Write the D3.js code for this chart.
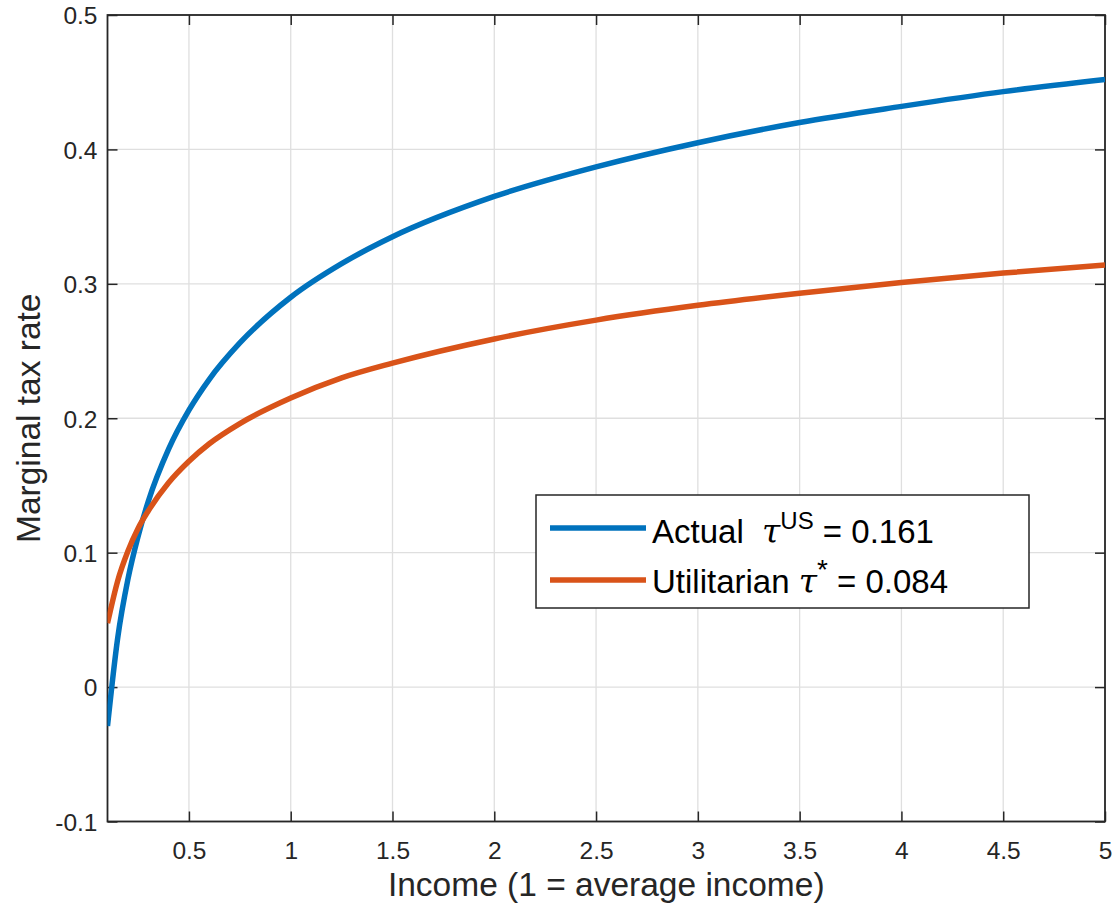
<!DOCTYPE html>
<html><head><meta charset="utf-8">
<script src="https://cdn.jsdelivr.net/npm/d3@7"></script>
<style>body{margin:0;background:#fff}</style>
</head><body>
<svg id="chart" width="1114" height="905"></svg>
<script>
const income = [0.1,0.15,0.2,0.25,0.3,0.4,0.5,0.6,0.75,1,1.25,1.5,2,2.5,3,3.5,4,4.5,5];
const actualRate = [-0.029,0.0365,0.080,0.112,0.138,0.177,0.206,0.229,0.256,0.290,0.315,0.335,0.365,0.387,0.405,0.420,0.432,0.443,0.452];
const utilRate = [0.0475,0.079,0.101,0.118,0.131,0.152,0.168,0.181,0.196,0.215,0.230,0.241,0.259,0.273,0.284,0.293,0.301,0.308,0.314];
const xTicks = [0.5,1,1.5,2,2.5,3,3.5,4,4.5,5];
const yTicks = [-0.1,0,0.1,0.2,0.3,0.4,0.5];
const yTickLabels = ["-0.1","0","0.1","0.2","0.3","0.4","0.5"];

const svg = d3.select("#chart");
const L=107.5, R=1105, T=15, B=821.5;
const x = d3.scaleLinear().domain([0.1,5]).range([L,R]);
const y = d3.scaleLinear().domain([-0.1,0.5]).range([B,T]);
const axisColor="#262626", gridColor="#dfdfdf";
const font="Liberation Sans, Arial, Helvetica, sans-serif";

// grid
svg.append("g").selectAll("line").data(xTicks).join("line")
  .attr("x1",d=>x(d)).attr("x2",d=>x(d)).attr("y1",T).attr("y2",B)
  .attr("stroke",gridColor).attr("stroke-width",1.3);
svg.append("g").selectAll("line").data(yTicks).join("line")
  .attr("y1",d=>y(d)).attr("y2",d=>y(d)).attr("x1",L).attr("x2",R)
  .attr("stroke",gridColor).attr("stroke-width",1.3);

// axes
const tickLen=10;
const xAxisB = d3.axisBottom(x).tickValues(xTicks).tickSizeInner(-tickLen).tickSizeOuter(0).tickPadding(20).tickFormat(d3.format("~g"));
const gx = svg.append("g").attr("transform",`translate(0,${B})`).call(xAxisB);
const xAxisT = d3.axisTop(x).tickValues(xTicks).tickSizeInner(-tickLen).tickSizeOuter(0).tickFormat("");
const gxt = svg.append("g").attr("transform",`translate(0,${T})`).call(xAxisT);
const yAxisL = d3.axisLeft(y).tickValues(yTicks).tickSizeInner(-tickLen).tickSizeOuter(0).tickPadding(20).tickFormat((d,i)=>yTickLabels[i]);
const gy = svg.append("g").attr("transform",`translate(${L},0)`).call(yAxisL);
const yAxisR = d3.axisRight(y).tickValues(yTicks).tickSizeInner(-tickLen).tickSizeOuter(0).tickFormat("");
const gyr = svg.append("g").attr("transform",`translate(${R},0)`).call(yAxisR);
[gx,gxt,gy,gyr].forEach(g=>{
  g.select(".domain").remove();
  g.selectAll(".tick line").attr("stroke",axisColor).attr("stroke-width",1.5);
  g.selectAll(".tick text").attr("fill",axisColor).style("font-family",font).style("font-size","24.5px");
});
gy.selectAll(".tick text").attr("dy","0.36em").attr("x",-10);
gx.selectAll(".tick text").attr("dy","0.72em").attr("y",20);
// box
svg.append("rect").attr("x",L).attr("y",T).attr("width",R-L).attr("height",B-T)
  .attr("fill","none").attr("stroke",axisColor).attr("stroke-width",1.8);

// lines
const line = d3.line().x(d=>x(d[0])).y(d=>y(d[1])).curve(d3.curveMonotoneX);
svg.append("clipPath").attr("id","clip").append("rect").attr("x",L).attr("y",T).attr("width",R-L).attr("height",B-T);
svg.append("path").datum(income.map((v,i)=>[v,actualRate[i]])).attr("d",line)
  .attr("fill","none").attr("stroke","#0072BD").attr("stroke-width",5.5).attr("clip-path","url(#clip)");
svg.append("path").datum(income.map((v,i)=>[v,utilRate[i]])).attr("d",line)
  .attr("fill","none").attr("stroke","#D95319").attr("stroke-width",5.5).attr("clip-path","url(#clip)");

// labels
svg.append("text").attr("x",(L+R)/2).attr("y",896).attr("text-anchor","middle")
  .style("font-family",font).style("font-size","33.5px").attr("fill",axisColor)
  .text("Income (1 = average income)");
svg.append("text").attr("transform",`translate(40,${(T+B)/2}) rotate(-90)`).attr("text-anchor","middle")
  .style("font-family",font).style("font-size","33.5px").attr("fill",axisColor)
  .text("Marginal tax rate");

// legend
const lg = svg.append("g");
lg.append("rect").attr("x",536).attr("y",495).attr("width",493).attr("height",113)
  .attr("fill","#fff").attr("stroke",axisColor).attr("stroke-width",1.5);
const entries = [
  {color:"#0072BD", y:528, base:543, name:"Actual  ", sup:"US", val:" = 0.161"},
  {color:"#D95319", y:580, base:593, name:"Utilitarian ", sup:"*", val:" = 0.084"}
];
entries.forEach(e=>{
  lg.append("line").attr("x1",550).attr("x2",646).attr("y1",e.y).attr("y2",e.y)
    .attr("stroke",e.color).attr("stroke-width",5.5);
  const t = lg.append("text").attr("x",652).attr("y",e.base).attr("fill","#000")
    .style("font-family",font).style("font-size","33px").attr("xml:space","preserve");
  t.append("tspan").text(e.name);
  t.append("tspan").style("font-family","DejaVu Serif, Liberation Serif, serif").style("font-style","italic").style("font-size","33px").text("τ");
  t.append("tspan").attr("dy",-14).style("font-size", e.sup==="*" ? "28px" : "24px").text(e.sup);
  t.append("tspan").attr("dy",14).text(e.val);
});
</script>
</body></html>
